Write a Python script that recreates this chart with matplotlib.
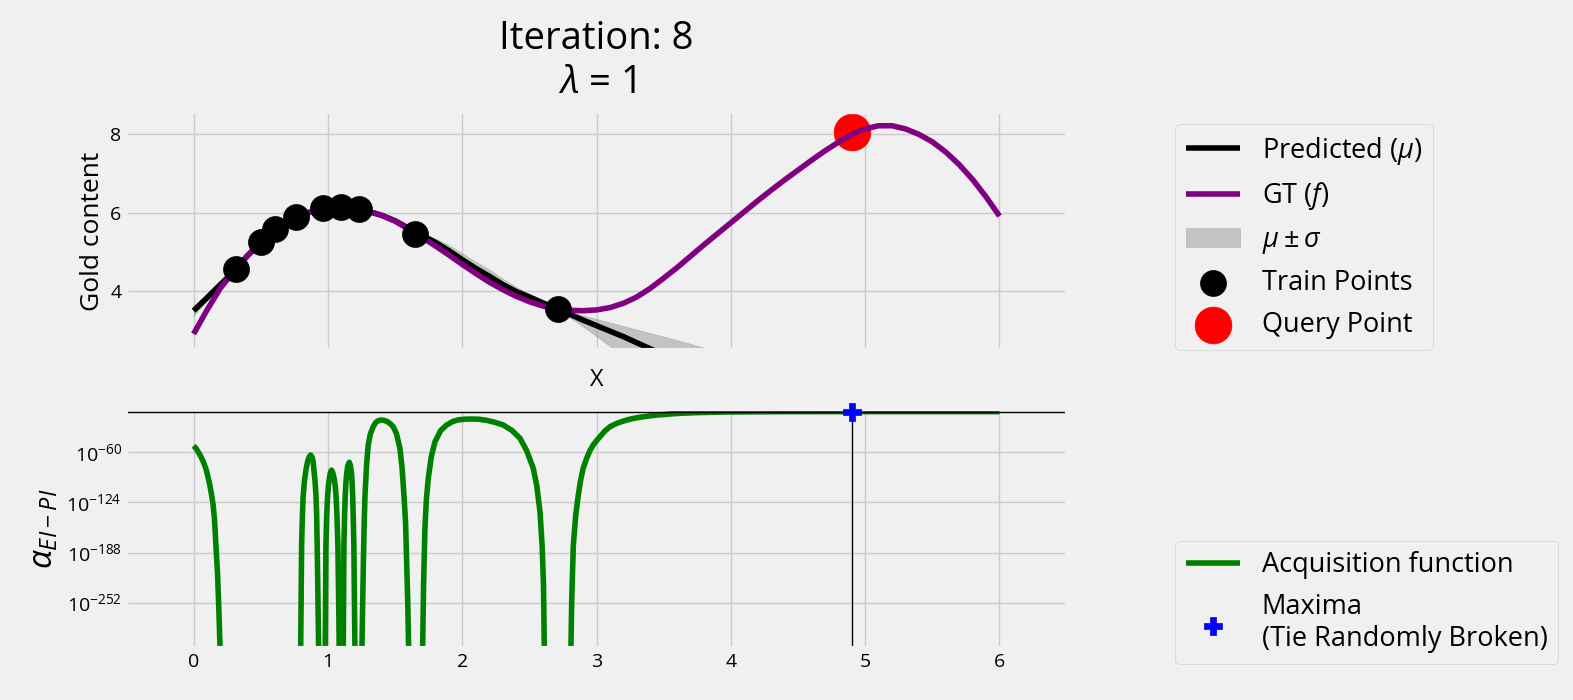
import numpy as np
import matplotlib.pyplot as plt
from matplotlib.ticker import NullLocator

plt.style.use('fivethirtyeight')
plt.rcParams['font.family'] = ['Open Sans', 'DejaVu Sans']
plt.rcParams['mathtext.fontset'] = 'custom'
plt.rcParams['mathtext.rm'] = 'Open Sans'
plt.rcParams['mathtext.it'] = 'Open Sans:italic'

x_gt = [0.0, 0.1, 0.2, 0.3, 0.4, 0.5, 0.6, 0.7, 0.8, 0.9, 1.0, 1.1, 1.2, 1.3, 1.4,
        1.5, 1.6, 1.7, 1.8, 1.9, 2.0, 2.1, 2.2, 2.3, 2.4, 2.5, 2.6, 2.7, 2.8, 2.9,
        3.0, 3.1, 3.2, 3.3, 3.4, 3.5, 3.6, 3.7, 3.8, 3.9, 4.0, 4.1, 4.2, 4.3, 4.4,
        4.5, 4.6, 4.7, 4.8, 4.9, 5.0, 5.1, 5.2, 5.3, 5.4, 5.5, 5.6, 5.7, 5.8, 5.9, 6.0]
gt = [2.91, 3.52, 4.08, 4.50, 4.90, 5.23, 5.55, 5.77, 5.93, 6.05, 6.12, 6.13, 6.10, 6.03, 5.93,
      5.78, 5.58, 5.37, 5.15, 4.92, 4.68, 4.45, 4.23, 4.04, 3.87, 3.73, 3.62, 3.55, 3.51, 3.50,
      3.52, 3.58, 3.69, 3.85, 4.07, 4.33, 4.60, 4.89, 5.18, 5.46, 5.74, 6.02, 6.30, 6.57, 6.83,
      7.08, 7.33, 7.57, 7.79, 7.99, 8.13, 8.21, 8.21, 8.13, 7.99, 7.80, 7.54, 7.22, 6.84, 6.40, 5.91]

# GP prediction and band
x_mu = [0.0, 0.1, 0.2, 0.3, 0.4, 0.5, 0.6, 0.7, 0.8, 0.9, 1.0, 1.1, 1.2, 1.3, 1.4,
        1.5, 1.6, 1.7, 1.8, 1.9, 2.0, 2.1, 2.2, 2.3, 2.4, 2.5, 2.6, 2.7, 2.8, 2.9,
        3.0, 3.1, 3.2, 3.4, 3.6, 3.8, 4.0]
mu = [3.50, 3.83, 4.17, 4.50, 4.90, 5.23, 5.55, 5.77, 5.93, 6.05, 6.12, 6.13, 6.10, 6.03, 5.93,
      5.79, 5.60, 5.42, 5.24, 5.03, 4.80, 4.58, 4.38, 4.17, 3.99, 3.85, 3.70, 3.56, 3.41, 3.26,
      3.12, 2.98, 2.84, 2.53, 2.22, 1.92, 1.62]
band_lo = [3.38, 3.76, 4.13, 4.49, 4.90, 5.23, 5.55, 5.77, 5.93, 6.05, 6.12, 6.13, 6.10, 6.03, 5.93,
           5.79, 5.60, 5.37, 5.14, 4.89, 4.64, 4.41, 4.21, 4.02, 3.87, 3.77, 3.66, 3.55, 3.33, 3.10,
           2.85, 2.60, 2.35, 1.90, 1.50, 1.15, 0.85]
band_hi = [3.62, 3.92, 4.22, 4.52, 4.90, 5.23, 5.55, 5.77, 5.93, 6.05, 6.12, 6.13, 6.10, 6.03, 5.93,
           5.79, 5.60, 5.47, 5.34, 5.17, 4.96, 4.75, 4.55, 4.32, 4.11, 3.93, 3.74, 3.57, 3.47, 3.38,
           3.29, 3.20, 3.11, 2.93, 2.75, 2.56, 2.35]

x_train = [0.318, 0.503, 0.608, 0.762, 0.965, 1.094, 1.233, 1.650, 2.715]
y_train = [4.56, 5.24, 5.58, 5.88, 6.11, 6.13, 6.08, 5.46, 3.54]
x_query, y_query = 4.904, 8.04

# acquisition function, as log10 exponents (nan = exactly zero)
x_acq = [0.0, 0.018, 0.036, 0.054, 0.072, 0.09, 0.105, 0.12, 0.134, 0.145, 0.155, 0.166, 0.178, 0.186, 0.192, 0.197, 0.2,
         0.79, 0.797, 0.800, 0.804, 0.810, 0.816, 0.826, 0.836, 0.848, 0.860, 0.871, 0.882, 0.890, 0.896, 0.904,
         0.911, 0.916, 0.920, 0.926, 0.931, 0.95,
         0.975, 0.980, 0.982, 0.985, 0.991, 0.998, 1.004, 1.010, 1.018, 1.027, 1.036, 1.047, 1.054, 1.060,
         1.067, 1.074, 1.080, 1.084, 1.1,
         1.11, 1.114, 1.116, 1.119, 1.124, 1.129, 1.134, 1.139, 1.148, 1.159, 1.168, 1.176, 1.180, 1.184,
         1.188, 1.193, 1.197, 1.201, 1.22,
         1.25, 1.253, 1.258, 1.264, 1.270, 1.276, 1.288, 1.300, 1.315, 1.337, 1.355, 1.375, 1.395, 1.415,
         1.44, 1.465, 1.486, 1.51, 1.536, 1.552, 1.566, 1.578, 1.586, 1.594, 1.601, 1.65,
         1.70, 1.705, 1.712, 1.722, 1.733, 1.747, 1.77, 1.797, 1.84, 1.884, 1.93, 1.97, 2.02, 2.070, 2.12,
         2.18, 2.24, 2.305, 2.37, 2.43, 2.48, 2.529, 2.555, 2.579, 2.595, 2.605, 2.611, 2.7,
         2.805, 2.809, 2.815, 2.827, 2.845, 2.864, 2.88, 2.90, 2.926, 2.95, 2.975, 3.0, 3.025, 3.06, 3.10,
         3.15, 3.2, 3.25, 3.3, 3.35, 3.45, 3.6, 3.75, 3.97, 4.15, 4.3, 4.5, 4.9, 5.2, 5.5, 5.8, 6.0]
acq_exp = [-51.6, -55, -60, -65.5, -72, -80, -90, -101, -114.7, -127, -145, -178.7, -215, -251, -285, -312, np.nan,
           np.nan, -312, -250, -178.7, -140, -114.7, -95, -83, -72, -66, -63.4, -66, -72, -83, -97,
           -114.7, -140, -178.7, -250, -312, np.nan,
           np.nan, -312, -250, -178.7, -140, -114.7, -102, -94, -86, -82.7, -86, -94, -102, -114.7,
           -140, -178.7, -250, -312, np.nan,
           np.nan, -312, -250, -178.7, -140, -114.7, -99, -88, -77, -72.8, -77, -88, -99, -114.7,
           -140, -178.7, -250, -312, np.nan,
           np.nan, -312, -260, -200, -150, -114.7, -75, -50.6, -37, -27.2, -22, -19.5, -18.7, -19.0,
           -20.5, -23.5, -27.2, -36, -54.9, -80, -114.7, -150, -200, -250, -312, np.nan,
           np.nan, -312, -230, -157.3, -120, -93.3, -65, -46.4, -32, -25, -20.5, -18.5, -17.6, -17.4, -17.6,
           -19, -21.5, -25, -32, -42, -58, -80.5, -103, -136, -180, -230, -312, np.nan,
           np.nan, -312, -250, -178.7, -140, -114.7, -97, -80.5, -67.7, -58, -50.6, -45, -40, -33, -27.2,
           -23, -20, -17.5, -15.8, -14.4, -12.3, -10.3, -9.2, -8.4, -8.15, -8.05, -8.0, -8.0, -8.0, -8.0, -8.0, -8.0]
acq_exp = np.array(acq_exp, dtype=float)
acq = np.where(np.isnan(acq_exp), 0.0, 10.0 ** np.nan_to_num(acq_exp))
x_max = 4.904
acq_max = 10.0 ** -8.0
acq_bottom = 10.0 ** -310

fig = plt.figure(figsize=(15.73, 7.0), dpi=100)
ax1 = fig.add_axes([0.0804, 0.5, 0.5977, 0.34])
ax2 = fig.add_axes([0.0804, 0.0743, 0.5977, 0.3414])

ax1.plot(x_mu, mu, color='k', label='Predicted ($\\mu$)')
ax1.plot(x_gt, gt, color='purple', label='GT ($f$)')
ax1.fill_between(x_mu, band_lo, band_hi, color='gray', alpha=0.4, label='$\\mu \\pm \\sigma$')
ax1.scatter(x_train, y_train, s=350, color='k', zorder=3, label='Train Points')
ax1.scatter([x_query], [y_query], s=700, color='red', label='Query Point')
ax1.set_xlim(-0.5, 6.5)
ax1.set_ylim(2.5, 8.56)
ax1.set_yticks([4, 6, 8])
ax1.set_xticks(range(7))
ax1.tick_params(labelbottom=False)
ax1.set_xlabel('X', labelpad=13)
ax1.set_ylabel('Gold content', fontsize=19)
ax1.set_title('Iteration: 8\n$\\lambda$ = 1', fontsize=27.5, pad=14)
fig.legend(*ax1.get_legend_handles_labels(), loc='upper left', borderaxespad=0,
           bbox_to_anchor=(1175 / 1573, 1 - 124 / 700), fontsize=19.5)

ax2.plot(x_acq, acq, color='green', label='Acquisition function')
ax2.set_yscale('log')
ax2.axhline(acq_max, color='k', lw=1)
ax2.vlines(x_max, acq_bottom, acq_max, color='k', lw=1)
ax2.scatter([x_max], [acq_max], marker='P', s=170, color='blue', zorder=4, clip_on=False,
            label='Maxima\n(Tie Randomly Broken)')
ax2.set_xlim(-0.5, 6.5)
ax2.set_ylim(acq_bottom, 10.0 ** -4.6)
ax2.set_xticks(range(7))
ax2.set_yticks([1e-60, 1e-124, 1e-188, 1e-252])
ax2.yaxis.set_minor_locator(NullLocator())
ax2.set_ylabel('$\\alpha_{EI-PI}$', fontsize=24)
fig.legend(*ax2.get_legend_handles_labels(), loc='lower left', borderaxespad=0,
           bbox_to_anchor=(1175 / 1573, 1 - 664 / 700), fontsize=19.5)

fig.savefig('out.png', dpi=100)
